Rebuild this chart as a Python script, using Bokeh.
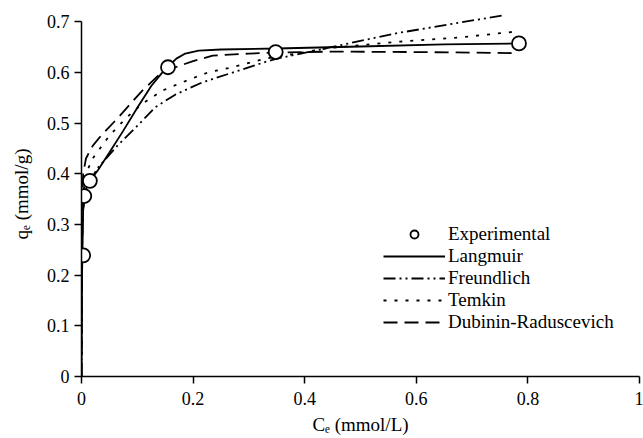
from bokeh.plotting import figure
from bokeh.models import Legend, LegendItem, FixedTicker
from bokeh.embed import file_html
from bokeh.resources import INLINE

# Experimental data
exp_c = [0.003, 0.005, 0.015, 0.155, 0.348, 0.784]
exp_q = [0.239, 0.356, 0.386, 0.610, 0.640, 0.657]

# Langmuir fitted curve
lang_c = [0, 0.001, 0.003, 0.008, 0.016, 0.03, 0.05, 0.075, 0.1, 0.125, 0.145, 0.155, 0.17, 0.186, 0.21, 0.25, 0.35, 0.5, 0.65, 0.784]
lang_q = [0, 0.20, 0.33, 0.37, 0.387, 0.408, 0.442, 0.485, 0.53, 0.573, 0.600, 0.611, 0.627, 0.637, 0.643, 0.645, 0.647, 0.651, 0.655, 0.657]

# Freundlich fitted curve
freu_c = [0, 0.001, 0.003, 0.008, 0.028, 0.064, 0.105, 0.132, 0.168, 0.216, 0.272, 0.325, 0.35, 0.445, 0.564, 0.677, 0.754]
freu_q = [0, 0.27, 0.33, 0.37, 0.41, 0.455, 0.50, 0.531, 0.556, 0.58, 0.60, 0.619, 0.627, 0.649, 0.677, 0.698, 0.712]

# Temkin fitted curve
temk_c = [0, 0.001, 0.003, 0.008, 0.02, 0.05, 0.08, 0.109, 0.145, 0.18, 0.227, 0.27, 0.33, 0.445, 0.564, 0.68, 0.775]
temk_q = [0, 0.25, 0.36, 0.40, 0.43, 0.475, 0.51, 0.538, 0.564, 0.58, 0.60, 0.61, 0.627, 0.648, 0.66, 0.669, 0.680]

# Dubinin-Raduscevich fitted curve
dubi_c = [0, 0.001, 0.003, 0.008, 0.02, 0.035, 0.066, 0.109, 0.138, 0.168, 0.2, 0.235, 0.3, 0.35, 0.45, 0.6, 0.775]
dubi_q = [0, 0.33, 0.40, 0.43, 0.455, 0.475, 0.511, 0.564, 0.594, 0.61, 0.622, 0.633, 0.637, 0.639, 0.641, 0.640, 0.638]

x_ticks = [0, 0.2, 0.4, 0.6, 0.8, 1]
y_ticks = [0, 0.1, 0.2, 0.3, 0.4, 0.5, 0.6, 0.7]

FONT = "Liberation Serif"

p = figure(width=643, height=438, x_range=(0, 1), y_range=(0, 0.72),
           output_backend="svg", toolbar_location=None,
           min_border_left=81, min_border_right=4, min_border_top=11, min_border_bottom=62)
p.outline_line_color = None
p.grid.visible = False
p.background_fill_color = "white"
p.border_fill_color = "white"

for ax in (p.xaxis[0], p.yaxis[0]):
    ax.axis_line_color = "black"
    ax.axis_line_width = 1.5
    ax.major_tick_line_color = "black"
    ax.major_tick_line_width = 1.5
    ax.major_tick_out = 7
    ax.major_tick_in = 0
    ax.minor_tick_line_color = None
    ax.major_label_text_font = FONT
    ax.major_label_text_font_size = "18px"
    ax.major_label_text_color = "black"
    ax.axis_label_text_font = FONT
    ax.axis_label_text_font_size = "19px"
    ax.axis_label_text_font_style = "normal"
    ax.axis_label_text_color = "black"

p.yaxis.bounds = (0, 0.7)
p.xaxis.ticker = FixedTicker(ticks=x_ticks)
p.yaxis.ticker = FixedTicker(ticks=y_ticks)
p.xaxis.major_label_overrides = {0: "0", 1: "1"}
p.xaxis.major_label_standoff = 8
p.yaxis.major_label_standoff = 5
p.xaxis.axis_label = "C\u2091 (mmol/L)"
p.yaxis.axis_label = "q\u2091 (mmol/g)"
p.xaxis.axis_label_standoff = 6
p.yaxis.axis_label_standoff = 12

lw = 1.8
r_lang = p.line(lang_c, lang_q, line_color="black", line_width=lw)
r_freu = p.line(freu_c, freu_q, line_color="black", line_width=lw, line_dash="12 4 2 4 2 4")
r_temk = p.line(temk_c, temk_q, line_color="black", line_width=lw, line_dash="3 8")
r_dubi = p.line(dubi_c, dubi_q, line_color="black", line_width=lw, line_dash="14 7")
r_exp = p.scatter(exp_c, exp_q, marker="circle", size=14, fill_color="white",
                  line_color="black", line_width=1.8)

legend = Legend(items=[
    LegendItem(label="Experimental", renderers=[r_exp]),
    LegendItem(label="Langmuir", renderers=[r_lang]),
    LegendItem(label="Freundlich", renderers=[r_freu]),
    LegendItem(label="Temkin", renderers=[r_temk]),
    LegendItem(label="Dubinin-Raduscevich", renderers=[r_dubi]),
], location=(302, 43))
legend.border_line_color = None
legend.background_fill_alpha = 0
legend.padding = 0
legend.margin = 0
legend.spacing = -1
legend.glyph_width = 62
legend.glyph_height = 20
legend.label_height = 20
legend.label_standoff = 3
legend.label_text_font = FONT
legend.label_text_font_size = "19px"
legend.label_text_color = "black"
p.add_layout(legend)

open("out.html", "w").write(file_html(p, INLINE))
